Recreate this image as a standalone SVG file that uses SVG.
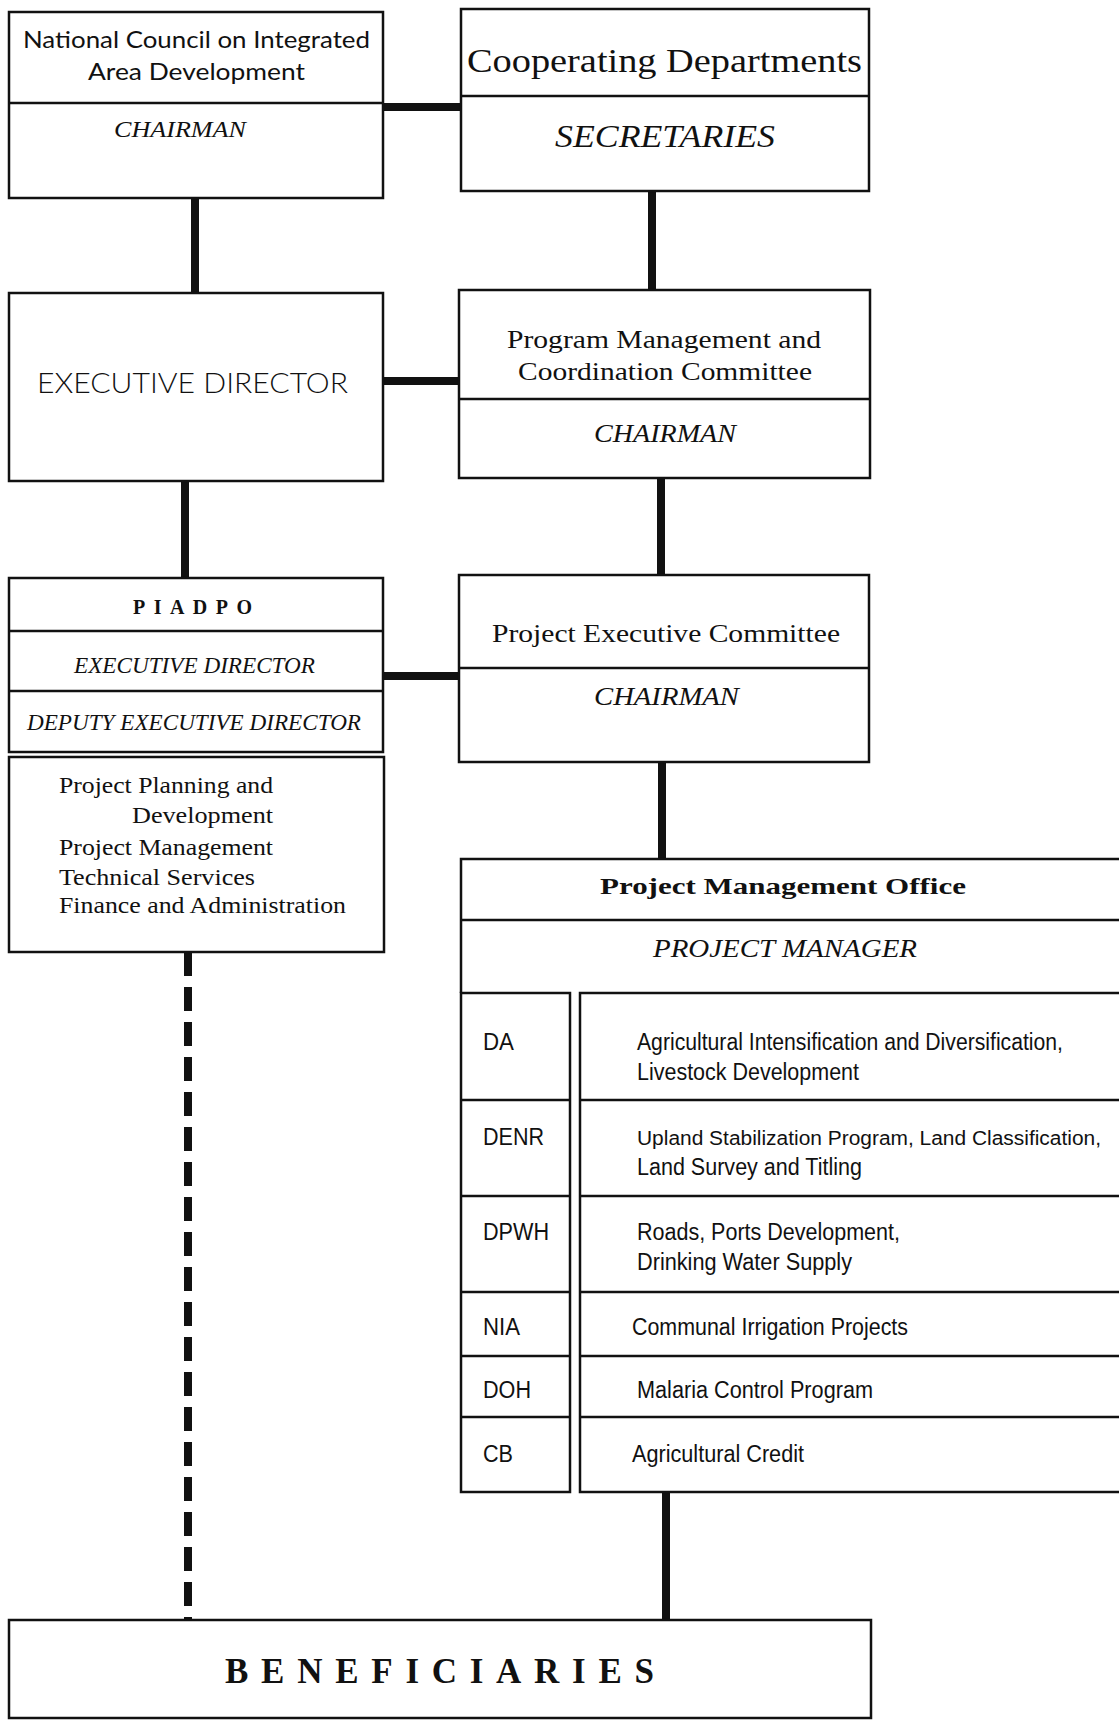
<svg xmlns="http://www.w3.org/2000/svg" width="1119" height="1722" viewBox="0 0 1119 1722">
<style>
.box{fill:#fff;stroke:#111;stroke-width:2.5}
.ln{stroke:#111;stroke-width:2.5;fill:none}
.conn{stroke:#111;stroke-width:8;fill:none}
.dash{stroke-dasharray:24 11}
.serif{font-family:"Liberation Serif","Times New Roman",serif;fill:#111}
.it{font-style:italic}
.geo{font-family:"Lato","Liberation Sans",sans-serif;fill:#111}
.cond{font-family:"Liberation Sans",Arial,sans-serif;fill:#111}
</style>
<rect width="1119" height="1722" fill="#fff"/>

<g id="connectors">
<line class="conn" x1="383" y1="107" x2="461" y2="107"/>
<line class="conn" x1="195" y1="198" x2="195" y2="293"/>
<line class="conn" x1="652" y1="191" x2="652" y2="290"/>
<line class="conn" x1="383" y1="381" x2="459" y2="381"/>
<line class="conn" x1="185" y1="481" x2="185" y2="578"/>
<line class="conn" x1="661" y1="478" x2="661" y2="575"/>
<line class="conn" x1="383" y1="676" x2="459" y2="676"/>
<line class="conn" x1="662" y1="762" x2="662" y2="859"/>
<line class="conn" x1="666" y1="1492" x2="666" y2="1620"/>
<line class="conn dash" x1="188" y1="952" x2="188" y2="1620"/>
</g>

<g id="ncia">
<rect class="box" x="9" y="12" width="374" height="186"/>
<line class="ln" x1="9" y1="103" x2="383" y2="103"/>
<text class="geo" x="23" y="48" font-size="23" textLength="347" lengthAdjust="spacingAndGlyphs">National Council on Integrated</text>
<text class="geo" x="88" y="80" font-size="23" textLength="217" lengthAdjust="spacingAndGlyphs">Area Development</text>
<text class="serif it" x="114" y="137" font-size="23" textLength="132" lengthAdjust="spacingAndGlyphs">CHAIRMAN</text>
</g>

<g id="coop">
<rect class="box" x="461" y="9" width="408" height="182"/>
<line class="ln" x1="461" y1="96" x2="869" y2="96"/>
<text class="serif" x="467" y="72" font-size="33" textLength="395" lengthAdjust="spacingAndGlyphs">Cooperating Departments</text>
<text class="serif it" x="555" y="147" font-size="31" textLength="220" lengthAdjust="spacingAndGlyphs">SECRETARIES</text>
</g>

<g id="exec">
<rect class="box" x="9" y="293" width="374" height="188"/>
<text class="geo" x="37" y="393" font-size="28" font-weight="300" textLength="311" lengthAdjust="spacingAndGlyphs">EXECUTIVE DIRECTOR</text>
</g>

<g id="pmcc">
<rect class="box" x="459" y="290" width="411" height="188"/>
<line class="ln" x1="459" y1="399" x2="870" y2="399"/>
<text class="serif" x="507" y="348" font-size="26" textLength="314" lengthAdjust="spacingAndGlyphs">Program Management and</text>
<text class="serif" x="518" y="380" font-size="26" textLength="294" lengthAdjust="spacingAndGlyphs">Coordination Committee</text>
<text class="serif it" x="594" y="442" font-size="26" textLength="142" lengthAdjust="spacingAndGlyphs">CHAIRMAN</text>
</g>

<g id="piadpo">
<rect class="box" x="9" y="578" width="374" height="174"/>
<line class="ln" x1="9" y1="631" x2="383" y2="631"/>
<line class="ln" x1="9" y1="691" x2="383" y2="691"/>
<text class="serif" x="133" y="614" font-size="20" font-weight="bold" textLength="119" lengthAdjust="spacing">PIADPO</text>
<text class="serif it" x="74" y="673" font-size="23" textLength="241" lengthAdjust="spacingAndGlyphs">EXECUTIVE DIRECTOR</text>
<text class="serif it" x="27" y="730" font-size="23" textLength="334" lengthAdjust="spacingAndGlyphs">DEPUTY EXECUTIVE DIRECTOR</text>
</g>

<g id="functions">
<rect class="box" x="9" y="757" width="375" height="195"/>
<text class="serif" x="59" y="793" font-size="24" textLength="214" lengthAdjust="spacingAndGlyphs">Project Planning and</text>
<text class="serif" x="132" y="823" font-size="24" textLength="141" lengthAdjust="spacingAndGlyphs">Development</text>
<text class="serif" x="59" y="855" font-size="24" textLength="214" lengthAdjust="spacingAndGlyphs">Project Management</text>
<text class="serif" x="59" y="885" font-size="24" textLength="196" lengthAdjust="spacingAndGlyphs">Technical Services</text>
<text class="serif" x="59" y="913" font-size="24" textLength="287" lengthAdjust="spacingAndGlyphs">Finance and Administration</text>
</g>

<g id="pec">
<rect class="box" x="459" y="575" width="410" height="187"/>
<line class="ln" x1="459" y1="668" x2="869" y2="668"/>
<text class="serif" x="492" y="642" font-size="26" textLength="348" lengthAdjust="spacingAndGlyphs">Project Executive Committee</text>
<text class="serif it" x="594" y="705" font-size="26" textLength="145" lengthAdjust="spacingAndGlyphs">CHAIRMAN</text>
</g>

<g id="pmo">
<path class="ln" d="M1121,859 H461 V993"/>
<line class="ln" x1="461" y1="920" x2="1121" y2="920"/>
<text class="serif" x="600" y="894" font-size="24" font-weight="bold" textLength="366" lengthAdjust="spacingAndGlyphs">Project Management Office</text>
<text class="serif it" x="653" y="957" font-size="25" textLength="264" lengthAdjust="spacingAndGlyphs">PROJECT MANAGER</text>
<rect class="box" x="461" y="993" width="109" height="499"/>
<path class="ln" d="M1121,993 H580 V1492 H1121"/>
<g class="ln">
<line x1="461" y1="1100" x2="570" y2="1100"/>
<line x1="461" y1="1196" x2="570" y2="1196"/>
<line x1="461" y1="1292" x2="570" y2="1292"/>
<line x1="461" y1="1356" x2="570" y2="1356"/>
<line x1="461" y1="1417" x2="570" y2="1417"/>
<line x1="580" y1="1100" x2="1121" y2="1100"/>
<line x1="580" y1="1196" x2="1121" y2="1196"/>
<line x1="580" y1="1292" x2="1121" y2="1292"/>
<line x1="580" y1="1356" x2="1121" y2="1356"/>
<line x1="580" y1="1417" x2="1121" y2="1417"/>
</g>
<g class="cond" font-size="23">
<text x="483" y="1050" textLength="31" lengthAdjust="spacingAndGlyphs">DA</text>
<text x="483" y="1145" textLength="61" lengthAdjust="spacingAndGlyphs">DENR</text>
<text x="483" y="1240" textLength="66" lengthAdjust="spacingAndGlyphs">DPWH</text>
<text x="483" y="1335" textLength="37" lengthAdjust="spacingAndGlyphs">NIA</text>
<text x="483" y="1398" textLength="48" lengthAdjust="spacingAndGlyphs">DOH</text>
<text x="483" y="1462" textLength="30" lengthAdjust="spacingAndGlyphs">CB</text>
<text x="637" y="1050" textLength="426" lengthAdjust="spacingAndGlyphs">Agricultural Intensification and Diversification,</text>
<text x="637" y="1080" textLength="222" lengthAdjust="spacingAndGlyphs">Livestock Development</text>
<text x="637" y="1145" font-size="20" textLength="464" lengthAdjust="spacingAndGlyphs">Upland Stabilization Program, Land Classification,</text>
<text x="637" y="1175" textLength="225" lengthAdjust="spacingAndGlyphs">Land Survey and Titling</text>
<text x="637" y="1240" textLength="263" lengthAdjust="spacingAndGlyphs">Roads, Ports Development,</text>
<text x="637" y="1270" textLength="215" lengthAdjust="spacingAndGlyphs">Drinking Water Supply</text>
<text x="632" y="1335" textLength="276" lengthAdjust="spacingAndGlyphs">Communal Irrigation Projects</text>
<text x="637" y="1398" textLength="236" lengthAdjust="spacingAndGlyphs">Malaria Control Program</text>
<text x="632" y="1462" textLength="172" lengthAdjust="spacingAndGlyphs">Agricultural Credit</text>
</g>
</g>

<g id="beneficiaries">
<rect class="box" x="9" y="1620" width="862" height="98"/>
<text class="serif" x="225" y="1683" font-size="35" font-weight="bold" textLength="429" lengthAdjust="spacing">BENEFICIARIES</text>
</g>
</svg>
